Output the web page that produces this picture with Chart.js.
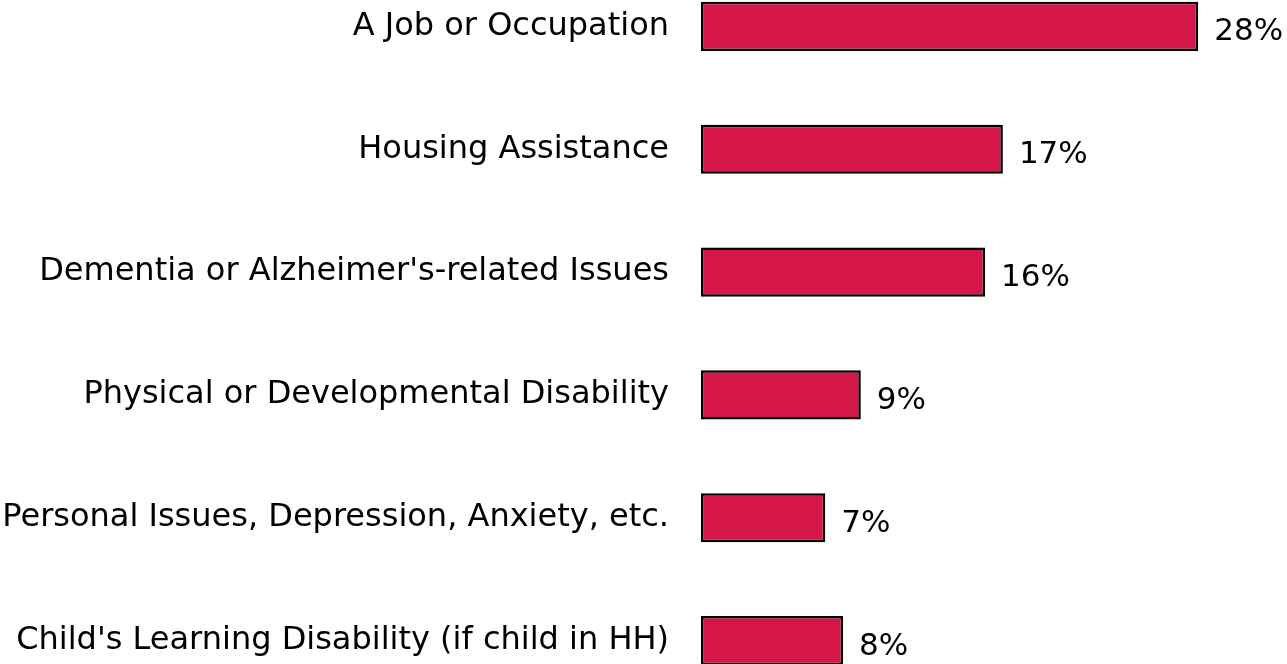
<!DOCTYPE html>
<html>
<head>
<meta charset="utf-8">
<script src="https://cdn.jsdelivr.net/npm/chart.js@4"></script>
<style>
  html, body { margin: 0; padding: 0; background: #fff; overflow: hidden; width: 1287px; height: 664px; }
  #wrap { position: absolute; left: 0; top: -35px; width: 1287px; height: 737px; }
</style>
</head>
<body>
<div id="wrap"><canvas id="c"></canvas></div>
<script>
const categories = [
  "A Job or Occupation",
  "Housing Assistance",
  "Dementia or Alzheimer's-related Issues",
  "Physical or Developmental Disability",
  "Personal Issues, Depression, Anxiety, etc.",
  "Child's Learning Disability (if child in HH)"
];
const values = [28, 17, 16, 9, 7, 8];
const valueLabels = ["28%", "17%", "16%", "9%", "7%", "8%"];

const FONT = "'DejaVu Sans', Verdana, sans-serif";

const valueLabelPlugin = {
  id: 'valueLabels',
  afterDatasetsDraw(chart) {
    const ctx = chart.ctx;
    const meta = chart.getDatasetMeta(0);
    ctx.save();
    ctx.font = "31px " + FONT;
    ctx.fillStyle = "#000";
    ctx.textAlign = "left";
    ctx.textBaseline = "middle";
    meta.data.forEach((bar, i) => {
      ctx.fillText(valueLabels[i], bar.x + 16, bar.y + 6);
    });
    ctx.restore();
  }
};

new Chart(document.getElementById('c'), {
  type: 'bar',
  data: {
    labels: categories,
    datasets: [{
      data: values,
      backgroundColor: '#D41748',
      borderColor: '#000',
      borderWidth: 2.5,
      borderSkipped: false,
      categoryPercentage: 1,
      barPercentage: 0.4
    }]
  },
  options: {
    indexAxis: 'y',
    responsive: true,
    maintainAspectRatio: false,
    animation: false,
    layout: { padding: 0 },
    plugins: { legend: { display: false }, tooltip: { enabled: false } },
    scales: {
      x: { display: false, min: 0, max: 33 },
      y: {
        grid: { display: false, drawTicks: false },
        border: { display: false },
        ticks: { color: '#000', font: { family: FONT, size: 32 }, padding: 32 },
        afterFit(scale) {
          scale.width = 701;
          scale.paddingTop = 0;
          scale.paddingBottom = 0;
        }
      }
    }
  },
  plugins: [valueLabelPlugin]
});
</script>
</body>
</html>
